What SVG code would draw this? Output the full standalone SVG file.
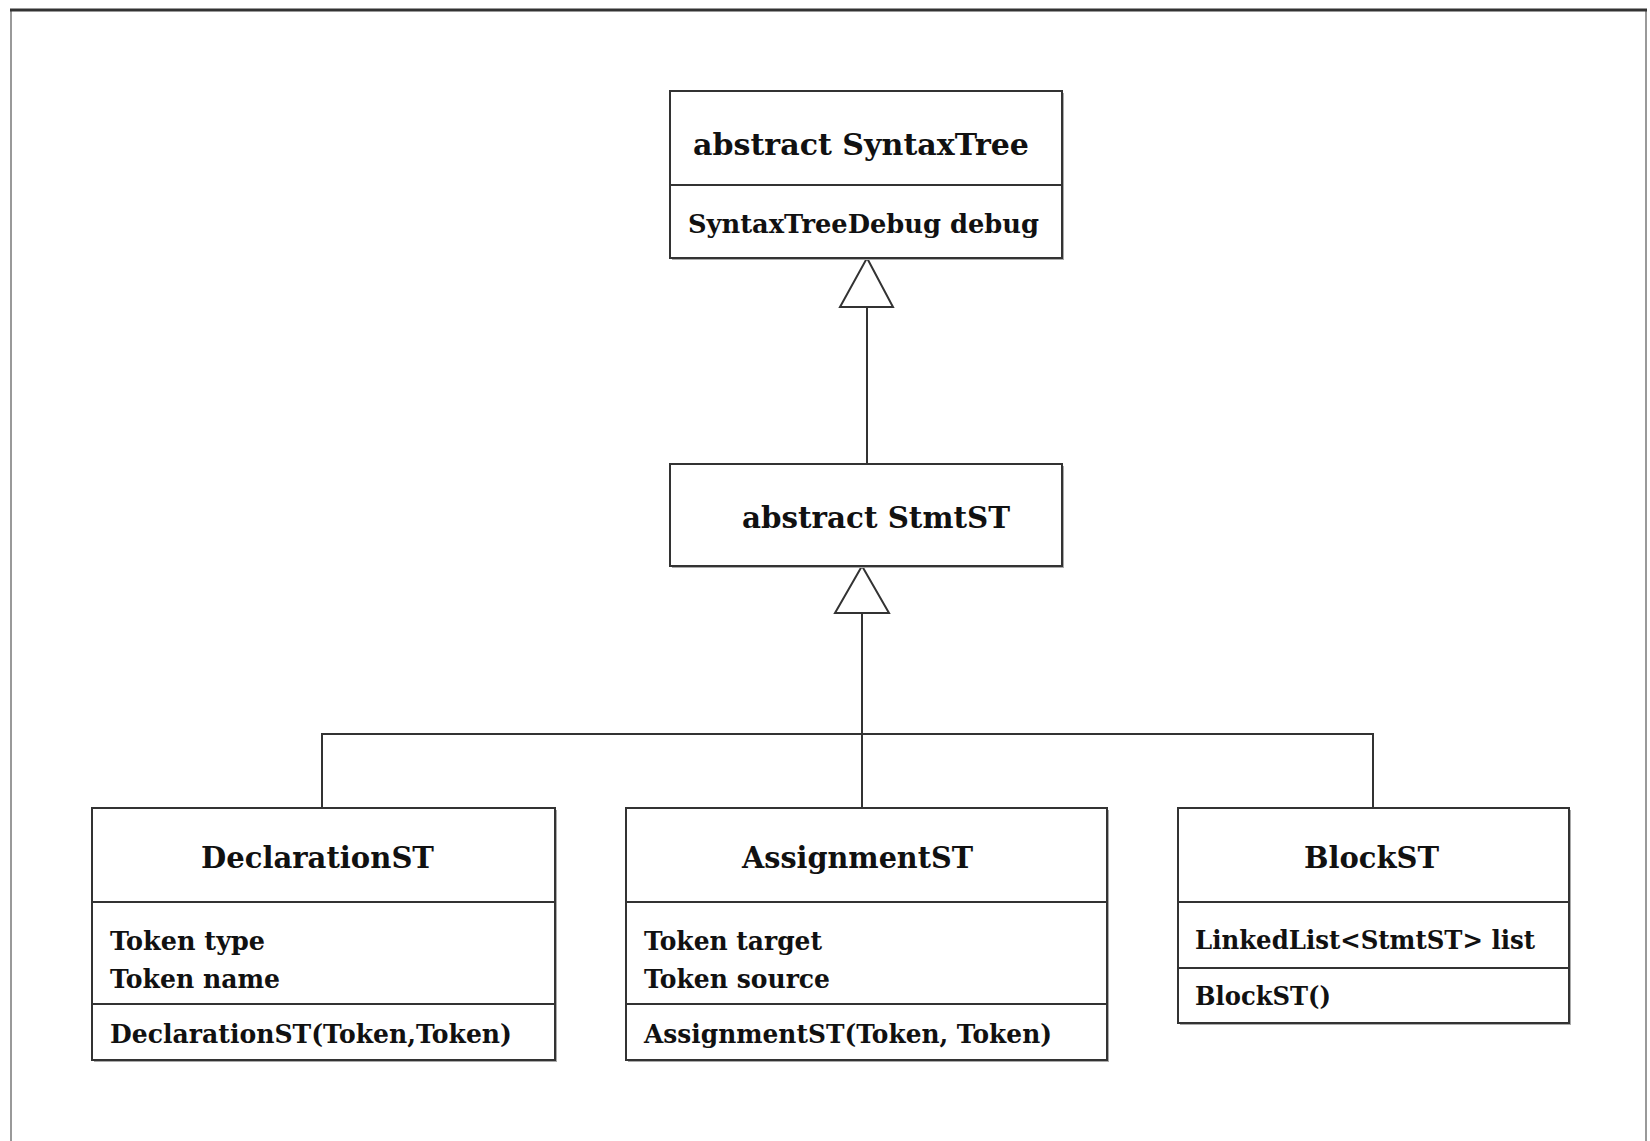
<svg xmlns="http://www.w3.org/2000/svg" width="1650" height="1141" viewBox="0 0 1650 1141">
<style>
.box{fill:#fff;stroke:#333;stroke-width:2}
.sh{fill:#aaa;stroke:none}
.div{stroke:#333;stroke-width:2}
.t{font-family:"DejaVu Serif","Liberation Serif",serif;font-weight:bold;font-size:30px;fill:#111}
.a{font-family:"DejaVu Serif","Liberation Serif",serif;font-weight:bold;font-size:26px;fill:#111}
.c{fill:none;stroke:#333;stroke-width:2}
.tri{fill:#fff;stroke:#333;stroke-width:2}
</style>
<rect width="1650" height="1141" fill="#fff"/>
<g id="frame">
<line x1="11" y1="10" x2="11" y2="1141" stroke="#999" stroke-width="2"/>
<line x1="1646" y1="10" x2="1646" y2="1141" stroke="#999" stroke-width="2"/>
<line x1="10" y1="10" x2="1647" y2="10" stroke="#333" stroke-width="3"/>
</g>
<g id="connectors">
<line class="c" x1="867" y1="307" x2="867" y2="464"/>
<polygon class="tri" points="867,258 893,307 840,307"/>
<line class="c" x1="862" y1="613" x2="862" y2="808"/>
<polyline class="c" points="322,808 322,734 1373,734 1373,808"/>
<polygon class="tri" points="862,566 889,613 835,613"/>
</g>
<g id="SyntaxTree">
<rect class="sh" x="672" y="93" width="392" height="167"/>
<rect class="box" x="670" y="91" width="392" height="167"/>
<line class="div" x1="670" y1="185" x2="1062" y2="185"/>
<text class="t" x="693" y="155" textLength="336" lengthAdjust="spacingAndGlyphs">abstract SyntaxTree</text>
<text class="a" x="688" y="233" textLength="351" lengthAdjust="spacingAndGlyphs">SyntaxTreeDebug debug</text>
</g>
<g id="StmtST">
<rect class="sh" x="672" y="466" width="392" height="102"/>
<rect class="box" x="670" y="464" width="392" height="102"/>
<text class="t" x="742" y="528" textLength="268" lengthAdjust="spacingAndGlyphs">abstract StmtST</text>
</g>
<g id="DeclarationST">
<rect class="sh" x="94" y="810" width="463" height="252"/>
<rect class="box" x="92" y="808" width="463" height="252"/>
<line class="div" x1="92" y1="902" x2="555" y2="902"/>
<line class="div" x1="92" y1="1004" x2="555" y2="1004"/>
<text class="t" x="201" y="868" textLength="233" lengthAdjust="spacingAndGlyphs">DeclarationST</text>
<text class="a" x="110" y="950" textLength="155" lengthAdjust="spacingAndGlyphs">Token type</text>
<text class="a" x="110" y="988" textLength="170" lengthAdjust="spacingAndGlyphs">Token name</text>
<text class="a" x="110" y="1043" textLength="402" lengthAdjust="spacingAndGlyphs">DeclarationST(Token,Token)</text>
</g>
<g id="AssignmentST">
<rect class="sh" x="628" y="810" width="481" height="252"/>
<rect class="box" x="626" y="808" width="481" height="252"/>
<line class="div" x1="626" y1="902" x2="1107" y2="902"/>
<line class="div" x1="626" y1="1004" x2="1107" y2="1004"/>
<text class="t" x="742" y="868" textLength="231" lengthAdjust="spacingAndGlyphs">AssignmentST</text>
<text class="a" x="644" y="950" textLength="178" lengthAdjust="spacingAndGlyphs">Token target</text>
<text class="a" x="644" y="988" textLength="186" lengthAdjust="spacingAndGlyphs">Token source</text>
<text class="a" x="644" y="1043" textLength="408" lengthAdjust="spacingAndGlyphs">AssignmentST(Token, Token)</text>
</g>
<g id="BlockST">
<rect class="sh" x="1180" y="810" width="391" height="215"/>
<rect class="box" x="1178" y="808" width="391" height="215"/>
<line class="div" x1="1178" y1="902" x2="1569" y2="902"/>
<line class="div" x1="1178" y1="968" x2="1569" y2="968"/>
<text class="t" x="1304" y="868" textLength="135" lengthAdjust="spacingAndGlyphs">BlockST</text>
<text class="a" x="1195" y="949" textLength="340" lengthAdjust="spacingAndGlyphs">LinkedList&lt;StmtST&gt; list</text>
<text class="a" x="1195" y="1005" textLength="136" lengthAdjust="spacingAndGlyphs">BlockST()</text>
</g>
</svg>
